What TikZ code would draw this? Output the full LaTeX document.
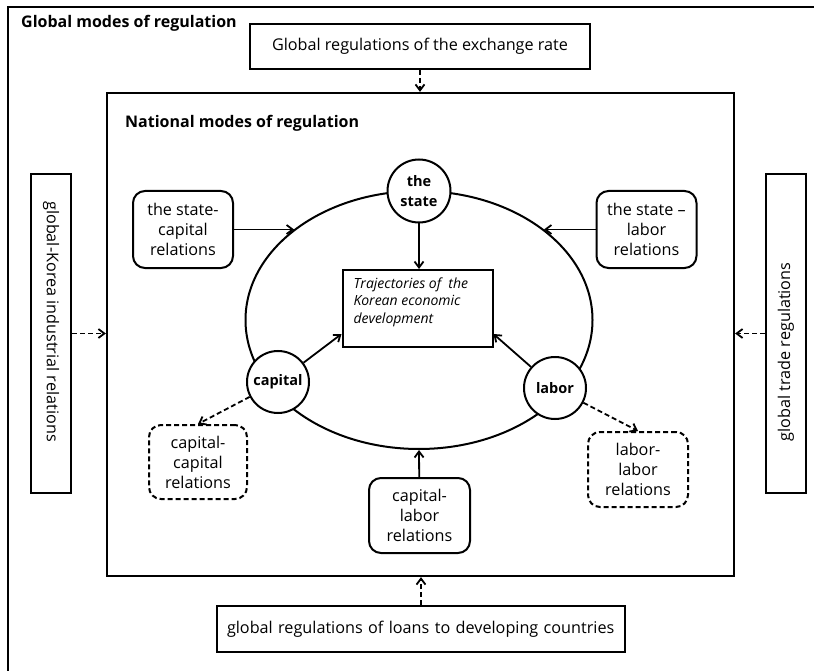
\documentclass[tikz,border=0pt]{standalone}
\usepackage{fontspec}
\setmainfont{Open Sans}
\usetikzlibrary{positioning,arrows.meta,shapes.geometric}

\tikzset{
  plainbox/.style={draw=black, line width=2pt, rectangle, inner sep=0pt, font=\fontsize{16.2}{20}\selectfont, align=center},
  sidebox/.style={draw=black, line width=2pt, rectangle, inner sep=0pt, font=\fontsize{16.2}{20}\selectfont, minimum width=319pt, minimum height=40pt},
  relbox/.style={plainbox, rounded corners=12pt, minimum width=100pt, minimum height=77pt},
  weakbox/.style={relbox, dash pattern=on 5pt off 3pt},
  actor/.style={draw=black, fill=white, line width=2pt, circle, inner sep=0pt, minimum size=62pt, font=\fontsize{14.5}{19.5}\selectfont\bfseries, align=center},
  heading/.style={anchor=west, inner sep=0pt, font=\fontsize{16}{20}\selectfont\bfseries},
  link/.style={line width=1.8pt, -{Straight Barb[length=6pt,width=9pt]}},
  weaklink/.style={link, dash pattern=on 5pt off 3pt}
}

\begin{document}
\begin{tikzpicture}[x=1pt, y=-1pt]
\useasboundingbox (0,0) rectangle (814,671);
% global frame, cut by the page
\draw[line width=2.2pt] (814,7) -- (8,7) -- (8,671);
\node[heading] (global) at (21,23) {Global modes of regulation};
\node[plainbox, minimum width=340pt, minimum height=45pt] (rate) at (420,46.5) {Global regulations of the exchange rate};
\node[plainbox, minimum width=408pt, minimum height=46pt, text width=388pt, align=left] (loans) at (421,629) {global regulations of loans to developing countries};
\node[sidebox, rotate=-90] (industry) at (51,333.5) {global-Korea industrial relations\hspace*{24pt}};
\node[sidebox, rotate=90] (trade) at (786,333.5) {global trade regulations\hspace*{37pt}};

% national frame
\node[draw, line width=2.2pt, minimum width=627pt, minimum height=483pt, inner sep=0pt] (nation) at (420.5,334.5) {};
\node[heading] (national) at (125,123) {National modes of regulation};

% ring of actors
\node[draw, ellipse, line width=2pt, minimum width=347pt, minimum height=258pt, inner sep=0pt] (ring) at (419,320) {};
\node[plainbox, inner xsep=11pt, inner ysep=7.5pt, font=\fontsize{14}{17.5}\selectfont\itshape] (traj) at (417.5,308.5) {\parbox[c][62pt][t]{128pt}{Trajectories of~ the\\Korean economic\\development}};
\node[actor, minimum size=63pt] (state) at (419,191) {the\\state};
\node[actor] (capital) at (278,382) {capital};
\node[actor] (labor) at (555,388) {labor};

% relations
\node[relbox] (stcap) at (183,229.5) {the state-\\capital\\relations};
\node[relbox] (stlab) at (646.5,229.5) {the state --\\labor\\relations};
\node[weakbox, minimum width=98pt, minimum height=74pt] (capcap) at (198,462) {capital-\\capital\\relations};
\node[weakbox, minimum height=75pt] (lablab) at (638,469.5) {labor-\\labor\\relations};
\node[relbox, minimum width=101pt, minimum height=75pt] (caplab) at (419.5,515.5) {capital-\\labor\\relations};

% connectors
\draw[weaklink] (rate.south) -- (rate.south |- nation.north);
\draw[weaklink] (loans.north) -- (loans.north |- nation.south);
\draw[weaklink] (industry) -- (industry -| nation.west);
\draw[weaklink] (trade) -- (trade -| nation.east);
\draw[link] (state) -- (state |- traj.north);
\draw[link] (capital) -- ([yshift=14pt]traj.south west);
\draw[link] (labor) -- ([yshift=14pt]traj.south east);
\draw[link] (stcap) -- (stcap -| ring.144);
\draw[link] (stlab) -- (stlab -| ring.36);
\draw[link] (caplab) -- (ring.south);
\draw[weaklink] (capital) -- (capcap.north);
\draw[weaklink] (labor) -- (lablab.north);
\end{tikzpicture}
\end{document}
